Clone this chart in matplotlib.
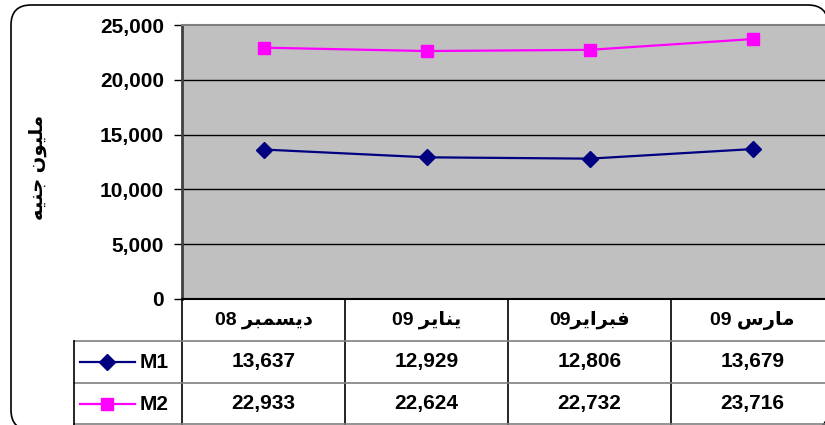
import matplotlib.pyplot as plt
import matplotlib.patches as mpatches

# data (Arabic written in presentation forms, visual order)
months = ["08 \uFEAE\uFE92\uFEE4\uFEB4\uFEF3\uFEA9",   # ديسمبر 08
          "09 \uFEAE\uFEF3\uFE8E\uFEE8\uFEF3",         # يناير 09
          "09\uFEAE\uFEF3\uFE8D\uFEAE\uFE92\uFED3",    # فبراير09
          "09 \uFEB1\uFEAD\uFE8E\uFEE3"]               # مارس 09
m1 = [13637, 12929, 12806, 13679]
m2 = [22933, 22624, 22732, 23716]
series_names = ["M1", "M2"]
y_label = "\uFEEA\uFEF4\uFEE8\uFE9F \uFEE5\uFEEE\uFEF4\uFEE0\uFEE3"  # مليون جنيه

plt.rcParams['font.family'] = ['Liberation Sans', 'DejaVu Sans']
plt.rcParams['font.weight'] = 'bold'

W, H = 825, 425
fig = plt.figure(figsize=(W / 100, H / 100), dpi=100)

# rounded chart border with a small shadow
shadow = mpatches.FancyBboxPatch((14, -8), 817, 425, boxstyle="round,pad=0,rounding_size=20",
                                 transform=None, facecolor="black", edgecolor="black", zorder=0)
border = mpatches.FancyBboxPatch((11, -5), 817, 425, boxstyle="round,pad=0,rounding_size=20",
                                 transform=None, facecolor="white", edgecolor="black",
                                 linewidth=1.2, zorder=0)
fig.add_artist(shadow)
fig.add_artist(border)

colw = 163
left_px, right_px = 182, 182 + 4 * colw
top_px, zero_px = 25, 299

ax = fig.add_axes([left_px / W, 1 - zero_px / H, (right_px - left_px) / W, (zero_px - top_px) / H])
ax.set_facecolor("#C0C0C0")
x = list(range(len(months)))
ax.plot(x, m1, color="#000080", linewidth=1.6, marker="D", markersize=8, zorder=3)
ax.plot(x, m2, color="#FF00FF", linewidth=1.6, marker="s", markersize=9, zorder=3)
ax.set_xlim(-0.5, 3.5)
ax.set_ylim(0, 25000)
ax.set_yticks(range(0, 25001, 5000))
ax.set_yticklabels([f"{v:,}" for v in range(0, 25001, 5000)], fontsize=15, fontweight="bold")
ax.set_xticks([])
ax.tick_params(axis="y", length=6, width=1, pad=7, color="black")
for v in range(5000, 25000, 5000):
    ax.axhline(v, color="black", linewidth=1, zorder=1)
ax.spines["left"].set_color("#404040")
ax.spines["left"].set_linewidth(2)
ax.spines["top"].set_color("#808080")
ax.spines["top"].set_linewidth(1.5)
ax.spines["bottom"].set_color("black")
ax.spines["bottom"].set_linewidth(1.5)
ax.spines["right"].set_visible(False)

fig.text(38 / W, 1 - 167 / H, y_label, rotation=90, ha="center", va="center",
         fontsize=14, fontweight="bold")

# data table under the plot
lab_px = 74
tab = fig.add_axes([lab_px / W, 0, (right_px - lab_px) / W, (H - zero_px) / H])
x0 = -0.5 - (left_px - lab_px) / colw
tab.set_xlim(x0, 3.5)
tab.set_ylim(3, 0)
tab.axis("off")

def px(p):
    return x0 + (p - lab_px) / colw

for i in range(len(months) + 1):
    tab.plot([i - 0.5, i - 0.5], [0, 3], color="black", linewidth=1.2, clip_on=False)
tab.plot([x0, 3.5], [1, 1], color="#808080", linewidth=1.2, clip_on=False)
tab.plot([x0, 3.5], [2, 2], color="#808080", linewidth=1.2, clip_on=False)
tab.plot([x0, 3.5], [2.98, 2.98], color="#808080", linewidth=1.2, clip_on=False)
tab.plot([x0, x0], [1, 3], color="black", linewidth=1.2, clip_on=False)

for i, m in enumerate(months):
    tab.text(i, 0.5, m, ha="center", va="center", fontsize=14, fontweight="bold")
    tab.text(i, 1.5, f"{m1[i]:,}", ha="center", va="center", fontsize=15, fontweight="bold")
    tab.text(i, 2.5, f"{m2[i]:,}", ha="center", va="center", fontsize=15, fontweight="bold")

tab.plot([px(80), px(135)], [1.5, 1.5], color="#000080", linewidth=1.6)
tab.plot([px(107)], [1.5], color="#000080", marker="D", markersize=8)
tab.plot([px(80), px(135)], [2.5, 2.5], color="#FF00FF", linewidth=1.6)
tab.plot([px(107)], [2.5], color="#FF00FF", marker="s", markersize=9)
tab.text(px(140), 1.5, series_names[0], ha="left", va="center", fontsize=15, fontweight="bold")
tab.text(px(140), 2.5, series_names[1], ha="left", va="center", fontsize=15, fontweight="bold")

fig.savefig("out.png", dpi=100)
